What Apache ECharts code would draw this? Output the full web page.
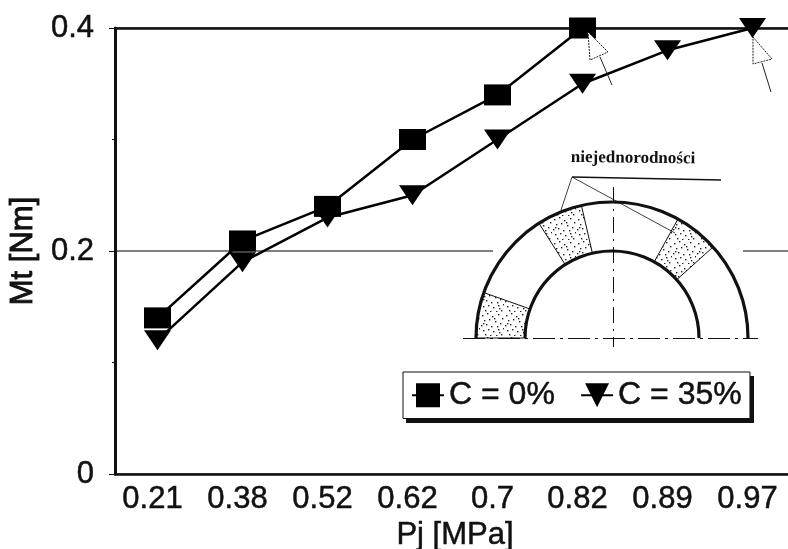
<!DOCTYPE html>
<html>
<head>
<meta charset="utf-8">
<style>html,body{margin:0;padding:0;background:#fff}#c{width:788px;height:549px}</style>
<script src="https://cdn.jsdelivr.net/npm/echarts@6/dist/echarts.min.js"></script>
</head>
<body>
<div id="c"></div>
<script>
var categories = ['0.21','0.38','0.52','0.62','0.7','0.82','0.89','0.97'];
var seriesC0 = [0.14,0.209,0.24,0.30,0.34,0.40,null,null];
var seriesC35 = [0.12,0.19,0.23,0.25,0.30,0.35,0.38,0.40];
var speckles = [[2,3],[7,1],[12,4],[18,2],[22,6],[4,8],[9,7],[15,9],[20,11],[1,13],[6,12],[11,14],[17,14],[23,16],[3,18],[8,17],[13,19],[19,20],[5,22],[10,23],[16,23],[21,22],[14,6],[3,11],[18,17]];

var font = '"Liberation Sans", Arial, sans-serif';
var tile = document.createElement('canvas');
tile.width = 24; tile.height = 24;
var tc = tile.getContext('2d');
tc.fillStyle = '#fff'; tc.fillRect(0,0,24,24);
tc.fillStyle = '#222';
speckles.forEach(function(p){ tc.fillRect(p[0],p[1],1.4,1.4); });
var pattern = {image: tile, repeat: 'repeat'};

var cx = 612, cy = 338, R = 136, r = 87;
function rad(d){ return d*Math.PI/180; }
function seg(a,b){
  return {type:'sector', z:3, shape:{cx:cx,cy:cy,r:R,r0:r,startAngle:rad(a),endAngle:rad(b)},
    style:{fill:pattern, stroke:'#111', lineWidth:1}};
}
function ln(x1,y1,x2,y2,w,dash){
  return {type:'line', z:4, shape:{x1:x1,y1:y1,x2:x2,y2:y2},
    style:{stroke:'#111', lineWidth:w, lineDash:dash||null}};
}
function arrow(pts,tail){
  return [
    {type:'polygon', z:6, shape:{points:pts}, style:{fill:'#fff', stroke:'#222', lineWidth:1, lineDash:[2,1]}},
    {type:'line', z:6, shape:{x1:tail[0],y1:tail[1],x2:tail[2],y2:tail[3]}, style:{stroke:'#222', lineWidth:1}}
  ];
}
var graphics = [
  {type:'rect', z:1, shape:{x:493,y:248,width:250,height:6}, style:{fill:'#fff'}},
  seg(180,199.5), seg(237.5,257), seg(299,318),
  {type:'arc', z:4, shape:{cx:cx,cy:cy,r:R,startAngle:Math.PI,endAngle:2*Math.PI}, style:{stroke:'#111',lineWidth:3.2,fill:null}},
  {type:'arc', z:4, shape:{cx:cx,cy:cy,r:r,startAngle:Math.PI,endAngle:2*Math.PI}, style:{stroke:'#111',lineWidth:3.2,fill:null}},
  ln(463,338.5,758,338.5,1.2,[22,5,3,5]),
  ln(613.5,187,613.5,347,1,[16,6,2,6]),
  ln(572,177,721,180,1.3),
  ln(572,177,561,210,0.8),
  ln(572,177,675,233,0.8),
  {type:'text', z:5, x:571, y:149, rotation:-0.012, style:{text:'niejednorodności', fill:'#111', font:'bold 17px "Liberation Serif", serif'}},
  {type:'rect', z:0, zlevel:0, shape:{x:406,y:376,width:348,height:47}, style:{fill:'#111'}}
].concat(arrow([[588,32],[608,52],[590,60]],[600,57,612,85]))
 .concat(arrow([[753,37],[772,59],[753,64]],[762,63,771,92]));

var inkText = {color:'#111', fontFamily:font, textBorderColor:'#111', textBorderWidth:0.5};
function ink(size, extra){ return Object.assign({fontSize:size}, inkText, extra||{}); }

var chart = echarts.init(document.getElementById('c'));
chart.setOption({
  animation:false,
  backgroundColor:'#fff',
  textStyle:{fontFamily:font},
  grid:{left:115,top:28,width:680,height:446,containLabel:false,outerBoundsMode:'none'},
  legend:{
    left:403, top:372, padding:[7,8,7,8], itemGap:25, itemWidth:32, itemHeight:30,
    backgroundColor:'#fff', borderColor:'#111', borderWidth:1,
    textStyle:ink(32), itemStyle:{color:'#000'},
    data:['C = 0%','C = 35%'], z:10
  },
  xAxis:[
    {type:'category', data:categories, position:'bottom', boundaryGap:true,
     name:'Pj [MPa]', nameLocation:'middle', nameGap:46,
     nameTextStyle:ink(31),
     axisLine:{lineStyle:{color:'#111',width:2.5}},
     axisTick:{alignWithLabel:true,length:7,lineStyle:{color:'#111',width:1}},
     axisLabel:Object.assign(ink(31),{margin:10,interval:0,padding:[0,10,0,0]})},
    {type:'category', data:categories, position:'top', boundaryGap:true,
     axisLine:{lineStyle:{color:'#111',width:2.5}}, axisTick:{show:false}, axisLabel:{show:false}},
    {type:'category', data:categories, position:'bottom', boundaryGap:true,
     axisLine:{show:false},
     axisTick:{alignWithLabel:true,inside:true,length:6,lineStyle:{color:'#111',width:1}},
     axisLabel:{show:false}}
  ],
  yAxis:{type:'value', min:0, max:0.4, interval:0.2,
     name:'Mt [Nm]', nameLocation:'middle', nameGap:71, nameRotate:90,
     nameTextStyle:ink(31,{textBorderWidth:0.9}),
     axisLine:{show:true,lineStyle:{color:'#111',width:3}},
     axisTick:{show:true,length:6,lineStyle:{color:'#111',width:1}},
     minorTick:{show:true,splitNumber:2,length:3,lineStyle:{color:'#111',width:1}},
     axisLabel:Object.assign(ink(31),{margin:21,formatter:function(v){return v===0?'0':v.toFixed(1);}}),
     splitLine:{show:true,lineStyle:{color:'#555',width:1.5}}},
  series:[
    {name:'C = 0%',type:'line',data:seriesC0,symbol:'rect',symbolSize:[27,21],
     showAllSymbol:true,lineStyle:{color:'#000',width:2.5},itemStyle:{color:'#000'},z:3},
    {name:'C = 35%',type:'line',data:seriesC35,symbol:'triangle',symbolRotate:180,symbolSize:[27,20],
     showAllSymbol:true,lineStyle:{color:'#000',width:2.5},itemStyle:{color:'#000'},z:3}
  ],
  graphic:{elements:graphics}
});
</script>
</body>
</html>
